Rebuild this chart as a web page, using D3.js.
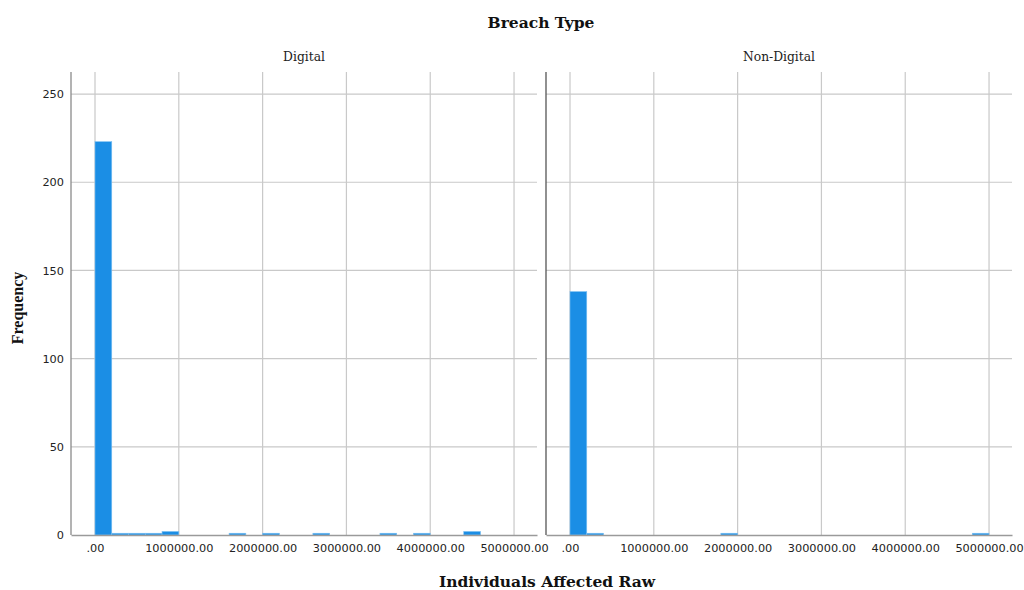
<!DOCTYPE html>
<html>
<head>
<meta charset="utf-8">
<script src="https://cdn.jsdelivr.net/npm/d3@7"></script>
<style>
  html, body { margin: 0; padding: 0; background: #fff; }
  svg { display: block; }
</style>
</head>
<body>
<svg id="chart" width="1024" height="590"></svg>
<script>
// Histogram bins (lower edge, width 200,000) and frequencies per breach type
const binWidth = 200000;
const panels = ["Digital", "Non-Digital"];
const digitalBinStarts = [0, 200000, 400000, 600000, 800000, 1600000, 2000000, 2600000, 3400000, 3800000, 4400000];
const digitalCounts    = [223, 1, 1, 1, 2, 1, 1, 1, 1, 1, 2];
const nonDigitalBinStarts = [0, 200000, 1800000, 4800000];
const nonDigitalCounts    = [138, 1, 1, 1];
const xTicks = [0, 1000000, 2000000, 3000000, 4000000, 5000000];
const yTicks = [0, 50, 100, 150, 200, 250];

const series = [
  { name: panels[0], bins: digitalBinStarts.map((s, i) => ({ x0: s, x1: s + binWidth, n: digitalCounts[i] })) },
  { name: panels[1], bins: nonDigitalBinStarts.map((s, i) => ({ x0: s, x1: s + binWidth, n: nonDigitalCounts[i] })) }
];

const svg = d3.select("#chart");
const plotTop = 72, plotBottom = 535;
const panelLeft = [71, 546], panelWidth = 466;

const y = d3.scaleLinear().domain([0, 262.5]).range([plotBottom, plotTop]);
const fmt = v => v === 0 ? ".00" : d3.format(".2f")(v);

series.forEach((s, pi) => {
  const left = panelLeft[pi];
  const x = d3.scaleLinear().domain([-286400, 5274000]).range([left, left + panelWidth]);
  const g = svg.append("g");

  // horizontal gridlines
  g.selectAll("line.hg").data(yTicks.filter(t => t > 0)).join("line")
    .attr("x1", left).attr("x2", left + panelWidth)
    .attr("y1", d => y(d)).attr("y2", d => y(d))
    .attr("stroke", "#c9c9c9").attr("stroke-width", 1.2);

  // vertical gridlines
  g.selectAll("line.vg").data(xTicks).join("line")
    .attr("x1", d => x(d)).attr("x2", d => x(d))
    .attr("y1", plotTop).attr("y2", plotBottom)
    .attr("stroke", "#c9c9c9").attr("stroke-width", 1.2);

  // bars
  g.selectAll("rect.bar").data(s.bins).join("rect")
    .attr("x", d => x(d.x0))
    .attr("width", d => x(d.x1) - x(d.x0))
    .attr("y", d => y(d.n))
    .attr("height", d => y(0) - y(d.n))
    .attr("fill", "#1b8ee5")
    .attr("stroke", "#7dc0f2")
    .attr("stroke-width", 0.6);

  // x axis
  const xa = g.append("g").attr("transform", `translate(0,${plotBottom})`)
    .call(d3.axisBottom(x).tickValues(xTicks).tickFormat(fmt).tickSize(0).tickPadding(9));
  xa.select(".domain").attr("stroke", "#9a9a9a").attr("stroke-width", 1.3);
  xa.selectAll("text").attr("font-family", "'DejaVu Sans', sans-serif").attr("font-size", 11.3).attr("fill", "#222");

  // y axis
  const ya = g.append("g").attr("transform", `translate(${left},0)`)
    .call(d3.axisLeft(y).tickValues(yTicks).tickSize(0).tickPadding(pi === 0 ? 7 : 0));
  ya.select(".domain").attr("stroke", pi === 0 ? "#8a8a8a" : "#555").attr("stroke-width", 1.3)
    .attr("d", `M0,${plotTop}V${plotBottom}`);
  if (pi === 0) {
    ya.selectAll("text").attr("font-family", "'DejaVu Sans', sans-serif").attr("font-size", 11.3).attr("fill", "#222");
  } else {
    ya.selectAll("text").remove();
  }

  // panel header
  g.append("text")
    .attr("x", left + panelWidth / 2).attr("y", 61)
    .attr("text-anchor", "middle")
    .attr("font-family", "'DejaVu Serif', serif").attr("font-size", 12.3).attr("fill", "#222")
    .text(s.name);
});

// titles
svg.append("text")
  .attr("x", 541).attr("y", 28).attr("text-anchor", "middle")
  .attr("font-family", "'DejaVu Serif', serif").attr("font-weight", "bold")
  .attr("font-size", 15.5).attr("fill", "#111")
  .text("Breach Type");

svg.append("text")
  .attr("x", 547).attr("y", 587).attr("text-anchor", "middle")
  .attr("font-family", "'DejaVu Serif', serif").attr("font-weight", "bold")
  .attr("font-size", 15.5).attr("fill", "#111")
  .text("Individuals Affected Raw");

svg.append("text")
  .attr("transform", "translate(23,308) rotate(-90)").attr("text-anchor", "middle")
  .attr("font-family", "'Liberation Serif', serif").attr("font-weight", "bold")
  .attr("font-size", 16).attr("fill", "#111")
  .text("Frequency");
</script>
</body>
</html>
